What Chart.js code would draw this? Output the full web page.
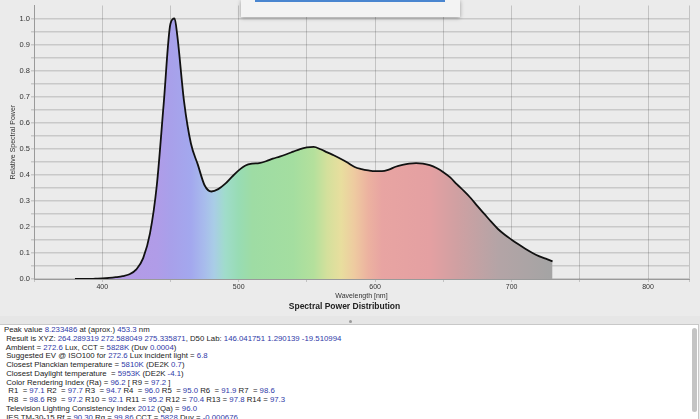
<!DOCTYPE html>
<html>
<head>
<meta charset="utf-8">
<script src="https://cdn.jsdelivr.net/npm/chart.js@4"></script>
<style>
  html, body { margin: 0; padding: 0; }
  body { width: 700px; height: 419px; overflow: hidden; background: #ebebeb; position: relative; font-family: "Liberation Sans", Arial, sans-serif; }
  #chartWrap { position: absolute; left: 0; top: 0; width: 700px; height: 316px; }
  #popup { position: absolute; left: 241px; top: 0; width: 219px; height: 17px; background: #f3f3f3; box-shadow: 0 1px 4px rgba(0,0,0,0.35); }
  #popup .bar { position: absolute; left: 14px; top: 0; width: 190px; height: 2px; background: #4a86d0; }
  #splitter { position: absolute; left: 0; top: 316px; width: 700px; height: 8px; background: #e6e6e6; }
  #splitter .dot { position: absolute; left: 349px; top: 4px; width: 3px; height: 3px; border-radius: 50%; background: #9a9a9a; }
  #panel { position: absolute; left: 0; top: 324px; width: 698px; height: 95px; background: #fff; border-top: 1px solid #c8c8c8; border-right: 1px solid #c8c8c8; overflow: hidden; }
  #panel pre { margin: 0; padding: 1px 0 0 4px; font-family: "Liberation Sans", Arial, sans-serif; font-size: 7.8px; line-height: 8.75px; color: #222; }
  #panel b { font-weight: normal; color: #2f3aa8; }
  #scroll { position: absolute; left: 692px; top: 3px; width: 5px; height: 84px; border-radius: 3px; background: #c4c4c4; }
</style>
</head>
<body>
<div id="chartWrap"><canvas id="spd"></canvas></div>
<div id="popup"><div class="bar"></div></div>
<div id="splitter"><div class="dot"></div></div>
<div id="panel">
<pre>Peak value <b>8.233486</b> at (aprox.) <b>453.3</b> nm
 Result is XYZ: <b>264.289319 272.588049 275.335871</b>, D50 Lab: <b>146.041751 1.290139 -19.510994</b>
 Ambient = <b>272.6</b> Lux, CCT = <b>5828K</b> (Duv <b>0.0004</b>)
 Suggested EV @ ISO100 for <b>272.6</b> Lux incident light = <b>6.8</b>
 Closest Planckian temperature = <b>5810K</b> (DE2K <b>0.7</b>)
 Closest Daylight temperature  = <b>5953K</b> (DE2K <b>-4.1</b>)
 Color Rendering Index (Ra) = <b>96.2</b> [ R9 = <b>97.2</b> ]
  R1  = <b>97.1</b> R2  = <b>97.7</b> R3  = <b>94.7</b> R4  = <b>96.0</b> R5  = <b>95.0</b> R6  = <b>91.9</b> R7  = <b>98.6</b>
  R8  = <b>98.6</b> R9  = <b>97.2</b> R10 = <b>92.1</b> R11 = <b>95.2</b> R12 = <b>70.4</b> R13 = <b>97.8</b> R14 = <b>97.3</b>
 Television Lighting Consistency Index <b>2012</b> (Qa) = <b>96.0</b>
 IES TM-30-15 Rf = <b>90.30</b> Rg = <b>99.86</b> CCT = <b>5828</b> Duv = <b>-0.000676</b></pre>
<div id="scroll"></div>
</div>

<script>
// wavelength samples (nm) and relative spectral power
const wavelengths = [
  380, 385, 390, 395, 400, 405, 410, 415, 420, 425, 430, 435, 440, 445, 450, 453,
  455, 460, 465, 470, 475, 480, 485, 490, 495, 500, 505, 510, 515, 520, 525, 530,
  535, 540, 545, 550, 555, 560, 565, 570, 575, 580, 585, 590, 595, 600, 605, 610,
  615, 620, 625, 630, 635, 640, 645, 650, 655, 660, 665, 670, 675, 680, 685, 690,
  695, 700, 705, 710, 715, 720, 725, 730
];
const relativePower = [
  0.000, 0.000, 0.000, 0.001, 0.002, 0.004, 0.007, 0.011, 0.018, 0.037, 0.080, 0.175, 0.360, 0.670, 0.980, 1.000,
  0.935, 0.680, 0.520, 0.440, 0.360, 0.336, 0.345, 0.365, 0.392, 0.417, 0.436, 0.443, 0.445, 0.452, 0.462, 0.470,
  0.479, 0.489, 0.499, 0.505, 0.507, 0.498, 0.486, 0.474, 0.461, 0.446, 0.430, 0.422, 0.417, 0.414, 0.414, 0.420,
  0.431, 0.438, 0.443, 0.445, 0.443, 0.437, 0.426, 0.410, 0.390, 0.363, 0.338, 0.311, 0.280, 0.250, 0.220, 0.192,
  0.170, 0.151, 0.133, 0.116, 0.101, 0.088, 0.078, 0.068
];
const xTickLabels = [400, 500, 600, 700, 800];
const yTickLabels = ['0.0', '0.1', '0.2', '0.3', '0.4', '0.5', '0.6', '0.7', '0.8', '0.9', '1.0'];

// spectrum colours for the fill, by wavelength
const spectrumStops = [
  [380, '#b59ee4'], [420, '#b39be6'], [440, '#b09ce8'], [450, '#a8a0ea'], [465, '#a3a8ee'],
  [475, '#a8bcec'], [482, '#a9cde6'], [490, '#a0dccb'], [500, '#98dcb4'], [510, '#9edca4'],
  [540, '#a4dea0'], [555, '#b4e09c'], [565, '#d4e09c'], [575, '#e8de9e'], [585, '#eecaa0'],
  [595, '#ecb2a0'], [605, '#e8a4a2'], [640, '#e4a0a2'], [660, '#d0a0a2'], [690, '#b4a4a6'],
  [730, '#a4a4a4']
];

function spectrumFill(context) {
  const chart = context.chart;
  const { ctx, chartArea, scales } = chart;
  if (!chartArea) return '#b0a0e0';
  const x0 = scales.x.getPixelForValue(wavelengths[0]);
  const x1 = scales.x.getPixelForValue(wavelengths[wavelengths.length - 1]);
  const g = ctx.createLinearGradient(x0, 0, x1, 0);
  const lo = wavelengths[0], hi = wavelengths[wavelengths.length - 1];
  spectrumStops.forEach(([w, c]) => g.addColorStop((w - lo) / (hi - lo), c));
  return g;
}

const tickFont = { family: 'Liberation Sans, Arial, sans-serif', size: 7 };

new Chart(document.getElementById('spd'), {
  type: 'line',
  data: {
    datasets: [{
      label: 'Spectral Power',
      data: wavelengths.map((w, i) => ({ x: w, y: relativePower[i] })),
      borderColor: '#111',
      borderWidth: 1.8,
      backgroundColor: spectrumFill,
      fill: 'origin',
      pointRadius: 0,
      cubicInterpolationMode: 'monotone'
    }]
  },
  options: {
    responsive: true,
    maintainAspectRatio: false,
    animation: false,
    layout: { padding: { top: 5, right: 11, left: 0, bottom: 0 } },
    plugins: {
      legend: { display: false },
      tooltip: { enabled: false },
      title: {
        display: true,
        position: 'bottom',
        text: 'Spectral Power Distribution',
        color: '#222',
        font: { family: 'Liberation Sans, Arial, sans-serif', size: 8.5, weight: 'bold' },
        padding: { top: 0, bottom: 4 }
      }
    },
    scales: {
      x: {
        type: 'linear',
        min: 350,
        max: 830,
        z: 1,
        afterFit: s => { s.height = 22.8; },
        ticks: {
          stepSize: 50,
          autoSkip: false,
          maxRotation: 0,
          padding: 1,
          color: '#333',
          font: tickFont,
          callback: v => xTickLabels.includes(v) ? String(v) : ''
        },
        grid: {
          color: 'rgba(0,0,0,0.17)',
          lineWidth: 1,
          tickLength: 3
        },
        border: { color: '#9a9a9a', width: 1 },
        title: {
          display: true,
          text: 'Wavelength [nm]',
          color: '#333',
          font: tickFont,
          padding: { top: 0, bottom: 2 }
        }
      },
      y: {
        min: 0,
        max: 1.05,
        z: 1,
        afterFit: s => { s.width = 34; },
        ticks: {
          stepSize: 0.05,
          autoSkip: false,
          padding: 1,
          color: '#333',
          font: { family: 'Liberation Sans, Arial, sans-serif', size: 7.5 },
          callback: v => {
            const k = Math.round(v * 100);
            return k % 10 === 0 ? yTickLabels[k / 10] : '';
          }
        },
        grid: {
          color: ctx => ctx.index === 21 ? 'rgba(0,0,0,0)' : 'rgba(0,0,0,0.14)',
          lineWidth: 1.5,
          tickLength: 3
        },
        border: { color: '#9a9a9a', width: 1 },
        title: {
          display: true,
          text: 'Relative Spectral Power',
          color: '#333',
          font: tickFont,
          padding: { top: 9, bottom: 0 }
        }
      }
    }
  }
});
</script>
</body>
</html>
